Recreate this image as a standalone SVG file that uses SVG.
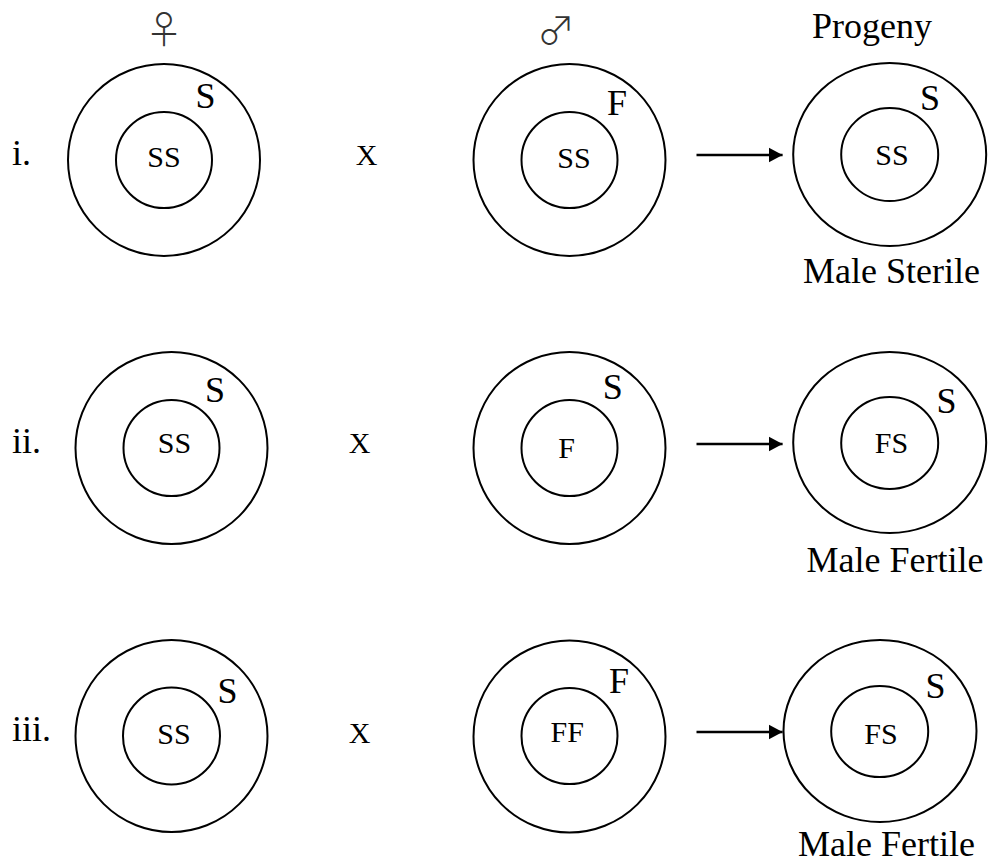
<svg xmlns="http://www.w3.org/2000/svg" width="991" height="863" viewBox="0 0 991 863">
<style>
  .c { fill: none; stroke: #000; stroke-width: 2; }
  .t { font-family: 'Liberation Serif', 'DejaVu Serif', serif; fill: #000; }
  .lg { font-size: 36px; }
  .sm { font-size: 30px; text-anchor: middle; }
  .mid { text-anchor: middle; }
  .sym { font-family: 'Noto Sans CJK JP', 'DejaVu Sans', sans-serif; font-weight: 300; font-size: 38px; fill: #333; text-anchor: middle; }
  .arr { stroke: #000; stroke-width: 2.5; fill: none; }
</style>
<defs>
  <marker id="ah" markerUnits="userSpaceOnUse" markerWidth="16" markerHeight="16" refX="14" refY="8" orient="auto">
    <path d="M0,0.5 L14,8 L0,15.5 Z" fill="#000"/>
  </marker>
</defs>
<rect width="991" height="863" fill="#fff"/>

<g id="headers">
  <text class="sym" x="164" y="43">♀</text>
  <text class="sym" x="556" y="44">♂</text>
  <text class="t lg" x="812" y="38">Progeny</text>
</g>

<g id="row-labels">
  <text class="t lg" x="12" y="165">i.</text>
  <text class="t lg" x="12" y="453">ii.</text>
  <text class="t lg" x="12" y="741">iii.</text>
</g>

<g id="cross-signs">
  <text class="t sm" x="366.5" y="165">X</text>
  <text class="t sm" x="359.5" y="453">X</text>
  <text class="t sm" x="359.5" y="743">X</text>
</g>

<g id="female-i">
  <circle class="c" cx="164" cy="160" r="96"/>
  <circle class="c" cx="164" cy="160" r="48"/>
  <text class="t lg mid" x="205.5" y="107.5">S</text>
  <text class="t sm" x="164" y="167">SS</text>
</g>
<g id="male-i">
  <circle class="c" cx="569.5" cy="160" r="96"/>
  <circle class="c" cx="569.5" cy="160" r="48"/>
  <text class="t lg mid" x="617" y="115">F</text>
  <text class="t sm" x="574" y="168">SS</text>
</g>
<g id="progeny-i">
  <ellipse class="c" cx="889.7" cy="154.5" rx="96.5" ry="91.5"/>
  <ellipse class="c" cx="889.7" cy="154.5" rx="48.5" ry="46.5"/>
  <text class="t lg mid" x="930" y="110">S</text>
  <text class="t sm" x="892" y="165">SS</text>
  <text class="t lg" x="803" y="283">Male Sterile</text>
</g>

<g id="female-ii">
  <circle class="c" cx="171.5" cy="448" r="96"/>
  <circle class="c" cx="171.5" cy="448" r="48"/>
  <text class="t lg mid" x="215" y="402">S</text>
  <text class="t sm" x="174.5" y="453">SS</text>
</g>
<g id="male-ii">
  <circle class="c" cx="569.5" cy="448" r="96"/>
  <circle class="c" cx="569.5" cy="448" r="48"/>
  <text class="t lg mid" x="612.7" y="399">S</text>
  <text class="t sm" x="566.5" y="458">F</text>
</g>
<g id="progeny-ii">
  <ellipse class="c" cx="889.7" cy="442.5" rx="96.5" ry="90.5"/>
  <ellipse class="c" cx="889.7" cy="443" rx="48.5" ry="46"/>
  <text class="t lg mid" x="946.5" y="413">S</text>
  <text class="t sm" x="891.5" y="453">FS</text>
  <text class="t lg" x="806.5" y="572">Male Fertile</text>
</g>

<g id="female-iii">
  <circle class="c" cx="171.5" cy="736" r="96"/>
  <circle class="c" cx="171.5" cy="736" r="48.5"/>
  <text class="t lg mid" x="227.5" y="703">S</text>
  <text class="t sm" x="174" y="744">SS</text>
</g>
<g id="male-iii">
  <circle class="c" cx="569.5" cy="736.5" r="96"/>
  <circle class="c" cx="569.5" cy="736" r="48"/>
  <text class="t lg mid" x="619" y="693">F</text>
  <text class="t sm" x="567.3" y="742">FF</text>
</g>
<g id="progeny-iii">
  <ellipse class="c" cx="880" cy="731" rx="96.5" ry="91"/>
  <ellipse class="c" cx="879.7" cy="731.5" rx="48.5" ry="45.5"/>
  <text class="t lg mid" x="935.4" y="698">S</text>
  <text class="t sm" x="881" y="744">FS</text>
  <text class="t lg" x="798" y="856">Male Fertile</text>
</g>

<g id="connectors">
  <line class="arr" x1="696.5" y1="155" x2="782.6" y2="155" marker-end="url(#ah)"/>
  <line class="arr" x1="696.5" y1="444" x2="782.6" y2="444" marker-end="url(#ah)"/>
  <line class="arr" x1="696.5" y1="732" x2="782.6" y2="732" marker-end="url(#ah)"/>
</g>
</svg>
